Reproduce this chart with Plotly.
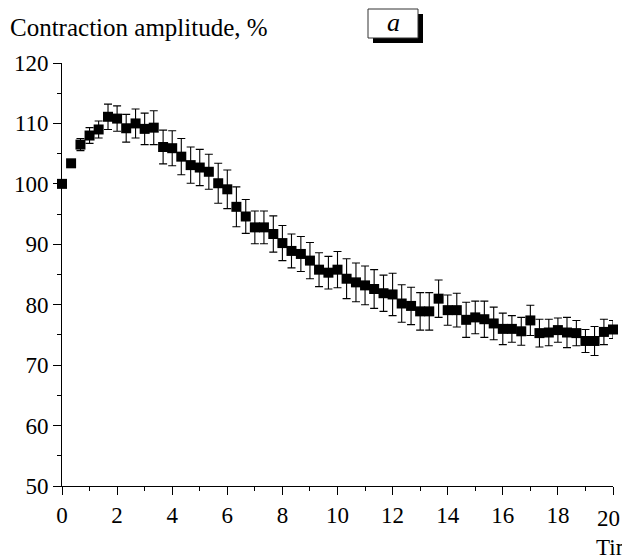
import plotly.graph_objects as go

# ---- data ----
time_min = [0, 0.33, 0.67, 1, 1.33, 1.67, 2, 2.33, 2.67, 3, 3.33, 3.67, 4, 4.33, 4.67,
            5, 5.33, 5.67, 6, 6.33, 6.67, 7, 7.33, 7.67, 8, 8.33, 8.67, 9, 9.33, 9.67,
            10, 10.33, 10.67, 11, 11.33, 11.67, 12, 12.33, 12.67, 13, 13.33, 13.67, 14,
            14.33, 14.67, 15, 15.33, 15.67, 16, 16.33, 16.67, 17, 17.33, 17.67, 18,
            18.33, 18.67, 19, 19.33, 19.67, 20]
amplitude = [100.0, 103.4, 106.5, 108.0, 109.0, 111.1, 110.8, 109.2, 110.0, 109.1,
             109.3, 106.1, 105.9, 104.5, 103.1, 102.7, 102.0, 100.1, 99.1, 96.2,
             94.6, 92.8, 92.8, 91.7, 90.2, 88.9, 88.4, 87.3, 85.8, 85.3,
             85.8, 84.3, 83.7, 83.2, 82.6, 81.9, 81.7, 80.2, 79.8, 78.9,
             78.9, 81.0, 79.1, 79.1, 77.5, 77.9, 77.6, 76.9, 76.0, 76.0,
             75.6, 77.4, 75.3, 75.4, 75.8, 75.4, 75.3, 74.0, 74.0, 75.5, 75.9]
error = [0.0, 0.6, 1.0, 1.3, 1.4, 2.1, 2.1, 2.3, 2.4, 2.6,
         2.8, 2.8, 2.9, 3.0, 3.0, 3.0, 2.9, 3.3, 3.2, 3.3,
         2.8, 2.7, 2.7, 3.0, 2.9, 2.8, 2.9, 3.0, 2.8, 2.7,
         3.0, 3.3, 3.2, 3.2, 3.2, 3.0, 3.5, 3.1, 3.1, 3.1,
         3.1, 3.1, 2.5, 2.8, 2.9, 2.7, 3.0, 2.7, 2.6, 2.2,
         2.3, 2.5, 2.3, 2.2, 2.0, 2.5, 2.1, 1.9, 2.4, 2.1, 1.5]
x_ticks = [0, 2, 4, 6, 8, 10, 12, 14, 16, 18, 20]
y_ticks = [50, 60, 70, 80, 90, 100, 110, 120]

y_title = "Contraction amplitude, %"
x_title = "Time, min"
panel_label = "a"

# ---- layout geometry (pixels) ----
W, H = 622, 560
ML, MR, MT, MB = 62, 9, 63, 74
PW, PH = W - ML - MR, H - MT - MB


def px_x(px):
    return (px - ML) / PW


def px_y(py):
    return 1 - (py - MT) / PH


FONT = "Liberation Serif"
TICK_SIZE = 23

fig = go.Figure()
fig.add_trace(go.Scatter(
    x=time_min, y=amplitude, mode="markers",
    marker=dict(symbol="square", size=10, color="black", line=dict(width=0)),
    error_y=dict(type="data", array=error, visible=True, color="black",
                 thickness=1.1, width=4),
    cliponaxis=False, showlegend=False,
))

axis_common = dict(
    showline=True, linecolor="black", linewidth=1, mirror=False,
    ticks="outside", ticklen=8, tickwidth=1, tickcolor="black",
    showgrid=False, zeroline=False, automargin=False,
    tickfont=dict(family=FONT, size=TICK_SIZE, color="black"),
)
# the last x label sits at the page edge; it is drawn as an annotation nudged left
x_ticktext = [str(v) for v in x_ticks[:-1]] + [""]
fig.update_xaxes(range=[0, 20], tickvals=x_ticks, ticktext=x_ticktext,
                 minor=dict(dtick=1, ticklen=4, tickcolor="black", ticks="outside", showgrid=False),
                 **axis_common)
fig.update_yaxes(range=[50, 120], tickvals=y_ticks, ticktext=[str(v) for v in y_ticks],
                 minor=dict(dtick=5, ticklen=4, tickcolor="black", ticks="outside", showgrid=False),
                 **axis_common)

fig.add_annotation(text=str(x_ticks[-1]), xref="x", yref="paper",
                   x=x_ticks[-1], y=px_y(518), xshift=-5,
                   xanchor="center", yanchor="middle", showarrow=False,
                   font=dict(family=FONT, size=TICK_SIZE, color="black"))

# panel label box with shadow
bx0, by0, bx1, by1 = 368, 9, 418, 38
fig.add_shape(type="rect", xref="paper", yref="paper",
              x0=px_x(bx0 + 5), x1=px_x(bx1 + 5), y0=px_y(by1 + 5), y1=px_y(by0 + 5),
              fillcolor="black", line=dict(width=0))
fig.add_shape(type="rect", xref="paper", yref="paper",
              x0=px_x(bx0), x1=px_x(bx1), y0=px_y(by1), y1=px_y(by0),
              fillcolor="white", line=dict(color="#333333", width=1))

fig.add_annotation(text="<i>" + panel_label + "</i>", xref="paper", yref="paper",
                   x=px_x((bx0 + bx1) / 2), y=px_y((by0 + by1) / 2 - 1),
                   xanchor="center", yanchor="middle", showarrow=False,
                   font=dict(family=FONT, size=26, color="black"))

fig.add_annotation(text=y_title, xref="paper", yref="paper",
                   x=px_x(8), y=px_y(27), xanchor="left", yanchor="middle",
                   showarrow=False, font=dict(family=FONT, size=25, color="black"))

fig.add_annotation(text=x_title, xref="paper", yref="paper",
                   x=px_x(594), y=px_y(547), xanchor="left", yanchor="middle",
                   showarrow=False, font=dict(family=FONT, size=23, color="black"))

fig.update_layout(
    width=W, height=H, autosize=False,
    margin=dict(l=ML, r=MR, t=MT, b=MB, pad=0, autoexpand=False),
    paper_bgcolor="white", plot_bgcolor="white",
    font=dict(family=FONT, color="black"),
)

fig.write_html("out.html")
